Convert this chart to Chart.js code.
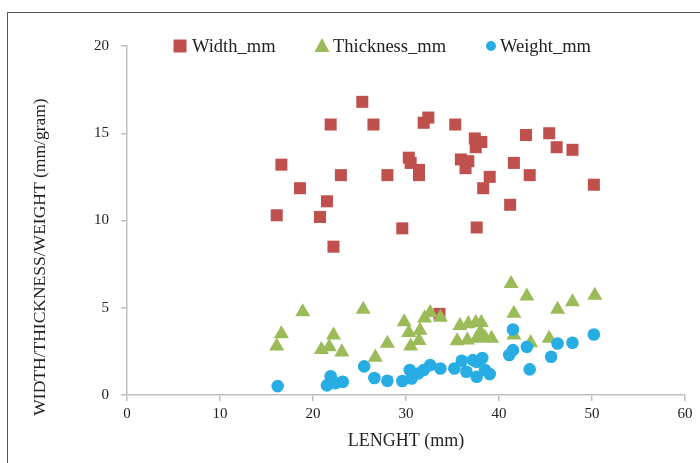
<!DOCTYPE html>
<html>
<head>
<meta charset="utf-8">
<script src="https://cdn.jsdelivr.net/npm/chart.js@4/dist/chart.umd.min.js"></script>
<style>
  html, body { margin: 0; padding: 0; background: #fff; }
  #wrap { position: relative; width: 700px; height: 463px; }
  #frame { position: absolute; left: 7px; top: 12px; right: 0; bottom: 0;
           border-top: 1.5px solid #555; border-left: 1.5px solid #555; pointer-events: none; }
  canvas { position: absolute; left: 0; top: 0; }
</style>
</head>
<body>
<div id="wrap">
  <canvas id="grafico" width="700" height="463"></canvas>
  <div id="frame"></div>
</div>
<script>
// dados
const widthX = [16.1, 16.6, 18.6, 20.75, 21.5, 21.9, 22.2, 23.0, 25.3, 26.5, 28.0, 29.6, 30.3, 30.5, 31.4, 31.4, 31.9, 32.4, 33.6, 35.3, 35.9, 36.4, 36.7, 37.4, 37.5, 37.6, 38.1, 38.3, 39.0, 41.2, 41.6, 42.9, 43.3, 45.4, 46.2, 47.9, 50.2];
const widthY = [10.3, 13.2, 11.85, 10.2, 11.1, 15.5, 8.5, 12.6, 16.8, 15.5, 12.6, 9.55, 13.6, 13.3, 12.9, 12.6, 15.6, 15.9, 4.65, 15.5, 13.5, 13.0, 13.4, 14.7, 14.2, 9.6, 14.5, 11.85, 12.5, 10.9, 13.3, 14.9, 12.6, 15.0, 14.2, 14.05, 12.05];

const thickX = [16.1, 16.6, 18.9, 20.9, 21.75, 22.2, 23.1, 25.4, 26.7, 28.0, 29.8, 30.3, 30.5, 31.4, 31.5, 32.0, 32.6, 33.7, 35.5, 35.8, 36.6, 36.7, 37.5, 37.6, 38.1, 38.0, 38.5, 39.2, 41.3, 41.6, 41.6, 43.0, 43.4, 45.4, 46.3, 47.9, 50.3];
const thickY = [2.8, 3.5, 4.76, 2.6, 2.76, 3.43, 2.46, 4.9, 2.16, 2.95, 4.19, 3.58, 2.8, 3.12, 3.7, 4.4, 4.72, 4.45, 3.1, 3.97, 3.14, 4.08, 4.14, 3.24, 4.14, 3.62, 3.28, 3.24, 6.38, 4.67, 3.43, 5.66, 2.99, 3.24, 4.9, 5.33, 5.71];

const weightX = [16.2, 21.5, 21.9, 22.4, 23.2, 25.5, 26.6, 28.0, 29.6, 30.4, 30.6, 31.3, 31.9, 32.6, 33.7, 35.2, 36.0, 36.5, 37.2, 37.6, 37.6, 38.2, 38.5, 39.0, 41.1, 41.5, 41.5, 43.0, 43.3, 45.6, 46.3, 47.9, 50.2];
const weightY = [0.51, 0.55, 1.07, 0.68, 0.76, 1.64, 0.97, 0.82, 0.8, 1.43, 0.95, 1.23, 1.43, 1.71, 1.52, 1.52, 1.96, 1.33, 2.0, 1.05, 1.9, 2.12, 1.43, 1.2, 2.29, 2.57, 3.75, 2.76, 1.47, 2.19, 2.95, 2.99, 3.47];

const xTicks = [0, 10, 20, 30, 40, 50, 60];
const yTicks = [0, 5, 10, 15, 20];
const xTitulo = 'LENGHT (mm)';
const yTitulo = 'WIDTH/THICKNESS/WEIGHT (mm/gram)';

function pontos(xs, ys) {
    return xs.map((x, i) => ({ x: x, y: ys[i] }));
}

const fonte = '"Liberation Serif", "Times New Roman", serif';
const corTexto = '#222';
const corEixo = '#bfbfbf';

// legenda e título do eixo Y desenhados à mão
const textosExtras = {
    id: 'textosExtras',
    afterDraw(chart) {
        const ctx = chart.ctx;
        ctx.save();
        ctx.fillStyle = corTexto;
        ctx.font = '17.5px ' + fonte;
        ctx.textAlign = 'center';
        ctx.textBaseline = 'middle';
        ctx.translate(40, 257);
        ctx.rotate(-Math.PI / 2);
        ctx.fillText(yTitulo, 0, 0);
        ctx.restore();

        const itens = [
            { x: 180, tx: 192 },
            { x: 322, tx: 333 },
            { x: 491, tx: 500 }
        ];
        const y = 46;
        chart.data.datasets.forEach((ds, i) => {
            const it = itens[i];
            ctx.save();
            ctx.fillStyle = ds.backgroundColor;
            ctx.beginPath();
            if (ds.pointStyle === 'rect') {
                ctx.rect(it.x - 6.5, y - 6.5, 13, 13);
            } else if (ds.pointStyle === 'triangle') {
                ctx.moveTo(it.x, y - 8);
                ctx.lineTo(it.x + 7.5, y + 6);
                ctx.lineTo(it.x - 7.5, y + 6);
                ctx.closePath();
            } else {
                ctx.arc(it.x, y, 5, 0, Math.PI * 2);
            }
            ctx.fill();
            ctx.fillStyle = corTexto;
            ctx.font = '18.5px ' + fonte;
            ctx.textAlign = 'left';
            ctx.textBaseline = 'middle';
            ctx.fillText(ds.label, it.tx, y + 1);
            ctx.restore();
        });
    }
};

const ctx = document.getElementById('grafico').getContext('2d');
new Chart(ctx, {
    type: 'scatter',
    data: {
        datasets: [
            {
                label: 'Width_mm',
                data: pontos(widthX, widthY),
                pointStyle: 'rect',
                pointRadius: 8.5,
                backgroundColor: '#c0504d',
                borderColor: '#c0504d',
                borderWidth: 0,
                order: 3
            },
            {
                label: 'Thickness_mm',
                data: pontos(thickX, thickY),
                pointStyle: 'triangle',
                pointRadius: 8.7,
                backgroundColor: '#9bbb59',
                borderColor: '#9bbb59',
                borderWidth: 0,
                order: 2
            },
            {
                label: 'Weight_mm',
                data: pontos(weightX, weightY),
                pointStyle: 'circle',
                pointRadius: 6.3,
                backgroundColor: '#27ade4',
                borderColor: '#27ade4',
                borderWidth: 0,
                order: 1
            }
        ]
    },
    options: {
        responsive: false,
        animation: false,
        layout: { padding: { left: 0, top: 46, right: 15, bottom: 0 } },
        plugins: {
            legend: { display: false },
            tooltip: { enabled: false }
        },
        scales: {
            x: {
                type: 'linear',
                min: 0,
                max: 60,
                afterFit: (s) => { s.height = 68; },
                afterBuildTicks: (s) => { s.ticks = xTicks.map(v => ({ value: v })); },
                border: { color: corEixo, width: 1.5 },
                grid: { drawOnChartArea: false, drawTicks: true, tickLength: 6, color: corEixo, lineWidth: 1.5 },
                ticks: { color: corTexto, font: { family: fonte, size: 15 }, padding: 4 },
                title: { display: true, text: xTitulo, color: corTexto, font: { family: fonte, size: 18 }, padding: { top: 0, bottom: 11 } }
            },
            y: {
                type: 'linear',
                min: 0,
                max: 20,
                afterFit: (s) => { s.width = 127; },
                afterBuildTicks: (s) => { s.ticks = yTicks.map(v => ({ value: v })); },
                border: { color: corEixo, width: 1.5 },
                grid: { drawOnChartArea: false, drawTicks: true, tickLength: 6, color: corEixo, lineWidth: 1.5 },
                ticks: { color: corTexto, font: { family: fonte, size: 15 }, padding: 12 },
                title: { display: false }
            }
        }
    },
    plugins: [textosExtras]
});
</script>
</body>
</html>
